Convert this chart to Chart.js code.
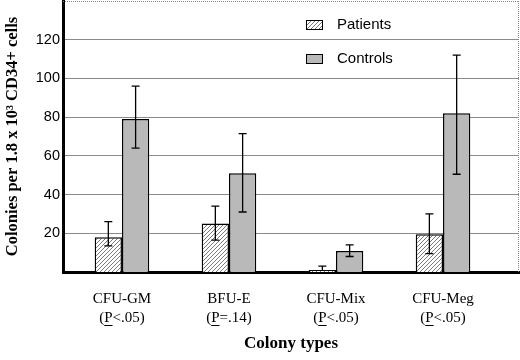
<!DOCTYPE html>
<html>
<head>
<meta charset="utf-8">
<script src="https://cdn.jsdelivr.net/npm/chart.js@4"></script>
<style>
  html, body { margin: 0; background: #fff; }
  #wrap { width: 520px; height: 360px; }
</style>
</head>
<body>
<div id="wrap"><canvas id="colonyChart"></canvas></div>
<script>
const categories = ['CFU-GM', 'BFU-E', 'CFU-Mix', 'CFU-Meg'];
const pValues = ['(P<.05)', '(P=.14)', '(P<.05)', '(P<.05)'];
const seriesNames = ['Patients', 'Controls'];

const patients = [18, 25, 1, 19.5];
const patientsHigh = [26, 34, 3, 30];
const patientsLow = [13.5, 16.5, 1, 9.5];

const controls = [79, 51, 10.8, 82];
const controlsHigh = [96, 71.5, 14, 112];
const controlsLow = [64, 31, 8, 50.5];

const yTicks = [20, 40, 60, 80, 100, 120];
const yMax = 140;

const serif = "'Liberation Serif', 'Times New Roman', serif";
const sans = "'Liberation Sans', Arial, sans-serif";
const tickFontSize = 15;
const tickLineHeight = 19;
const tickPadding = 18;

function makeHatch() {
    const c = document.createElement('canvas');
    c.width = 4; c.height = 4;
    const g = c.getContext('2d');
    g.fillStyle = '#fff';
    g.fillRect(0, 0, 4, 4);
    g.strokeStyle = '#777';
    g.lineWidth = 1;
    g.beginPath();
    g.moveTo(0, 4); g.lineTo(4, 0);
    g.moveTo(-1, 1); g.lineTo(1, -1);
    g.moveTo(3, 5); g.lineTo(5, 3);
    g.stroke();
    return g.createPattern(c, 'repeat');
}
const hatch = makeHatch();
const controlGray = '#b9b9b9';

const errHigh = [patientsHigh, controlsHigh];
const errLow = [patientsLow, controlsLow];

// error bars, legend, frame and the underlined P
const extrasPlugin = {
    id: 'extras',
    beforeDatasetsDraw(chart) {
        const ctx = chart.ctx;
        const area = chart.chartArea;
        ctx.save();
        ctx.strokeStyle = '#888';
        ctx.lineWidth = 1;
        ctx.setLineDash([1, 1]);
        ctx.beginPath();
        const top = Math.round(chart.scales.y.getPixelForValue(yMax)) + 0.5;
        ctx.moveTo(area.left, top);
        ctx.lineTo(area.right, top);
        ctx.moveTo(area.right - 0.5, area.top);
        ctx.lineTo(area.right - 0.5, area.bottom);
        ctx.stroke();
        ctx.restore();
    },
    afterDatasetsDraw(chart) {
        const ctx = chart.ctx;
        const y = chart.scales.y;
        ctx.save();
        ctx.strokeStyle = '#000';
        ctx.lineWidth = 1.3;
        chart.data.datasets.forEach((ds, d) => {
            const meta = chart.getDatasetMeta(d);
            meta.data.forEach((bar, i) => {
                const top = y.getPixelForValue(errHigh[d][i]);
                const bot = y.getPixelForValue(errLow[d][i]);
                ctx.beginPath();
                ctx.moveTo(bar.x, top); ctx.lineTo(bar.x, bot);
                ctx.moveTo(bar.x - 4, top); ctx.lineTo(bar.x + 4, top);
                if (errLow[d][i] < ds.data[i].y) {
                    ctx.moveTo(bar.x - 4, bot); ctx.lineTo(bar.x + 4, bot);
                }
                ctx.stroke();
            });
        });
        ctx.restore();
    },
    afterDraw(chart) {
        const ctx = chart.ctx;
        const area = chart.chartArea;
        ctx.save();

        // legend
        const lx = area.left + 243;
        ctx.font = '15px ' + sans;
        ctx.textBaseline = 'middle';
        chart.data.datasets.forEach((ds, d) => {
            const by = area.top + 19 + d * 34;
            ctx.fillStyle = ds.backgroundColor;
            ctx.fillRect(lx, by, 16, 9);
            ctx.strokeStyle = '#000';
            ctx.lineWidth = 1;
            ctx.strokeRect(lx + 0.5, by + 0.5, 16, 9);
            ctx.fillStyle = '#000';
            ctx.fillText(ds.label, lx + 31, by + 5);
        });

        // underline the P in each p-value label
        const x = chart.scales.x;
        ctx.font = tickFontSize + 'px ' + serif;
        ctx.lineWidth = 1;
        ctx.strokeStyle = '#000';
        pValues.forEach((p, i) => {
            const cx = x.getPixelForValue(i);
            const start = cx - ctx.measureText(p).width / 2 + ctx.measureText('(').width;
            const w = ctx.measureText('P').width;
            const uy = x.top + tickPadding + tickLineHeight * 1.5 + tickFontSize * 0.42;
            ctx.beginPath();
            ctx.moveTo(start, Math.round(uy) + 0.5);
            ctx.lineTo(start + w, Math.round(uy) + 0.5);
            ctx.stroke();
        });
        ctx.restore();
    }
};

new Chart(document.getElementById('colonyChart'), {
    type: 'bar',
    data: {
        datasets: [
            {
                label: seriesNames[0],
                data: patients.map((v, i) => ({ x: i, y: v })),
                backgroundColor: hatch,
                borderColor: '#000',
                borderWidth: 1.5
            },
            {
                label: seriesNames[1],
                data: controls.map((v, i) => ({ x: i, y: v })),
                backgroundColor: controlGray,
                borderColor: '#000',
                borderWidth: 1.5
            }
        ]
    },
    options: {
        responsive: true,
        maintainAspectRatio: false,
        animation: false,
        categoryPercentage: 0.51,
        barPercentage: 1.0,
        layout: { padding: { top: 1, right: 1, left: 0, bottom: 0 } },
        plugins: {
            legend: { display: false },
            tooltip: { enabled: false }
        },
        scales: {
            x: {
                type: 'linear',
                offset: false,
                min: -0.551,
                max: 3.71,
                afterBuildTicks: s => { s.ticks = categories.map((c, i) => ({ value: i })); },
                afterFit: s => { s.height = 88; s.paddingLeft = 0; s.paddingRight = 0; },
                grid: { offset: false, drawOnChartArea: false, drawTicks: false },
                border: { display: true, color: '#000', width: 3 },
                ticks: {
                    autoSkip: false,
                    maxRotation: 0,
                    padding: tickPadding,
                    color: '#000',
                    font: { family: serif, size: tickFontSize, lineHeight: tickLineHeight / tickFontSize },
                    callback: v => [categories[Math.round(v)], pValues[Math.round(v)]]
                },
                title: {
                    display: true,
                    text: 'Colony types',
                    color: '#000',
                    font: { family: serif, size: 17, weight: 'bold' },
                    padding: { top: 0, bottom: 6 }
                }
            },
            y: {
                min: 0,
                max: yMax,
                afterBuildTicks: s => { s.ticks = yTicks.map(v => ({ value: v })); },
                afterFit: s => { s.width = 63; s.paddingTop = 0; s.paddingBottom = 0; },
                grid: { color: '#8a8a8a', lineWidth: 1, drawTicks: false },
                border: { display: true, color: '#000', width: 3 },
                ticks: {
                    padding: 3,
                    color: '#000',
                    font: { family: sans, size: 14.5 }
                },
                title: {
                    display: true,
                    text: 'Colonies per 1.8 x 10\u00B3 CD34+ cells',
                    color: '#000',
                    font: { family: serif, size: 16.5, weight: 'bold' },
                    padding: { top: 3, bottom: 0 }
                }
            }
        }
    },
    plugins: [extrasPlugin]
});
</script>
</body>
</html>
